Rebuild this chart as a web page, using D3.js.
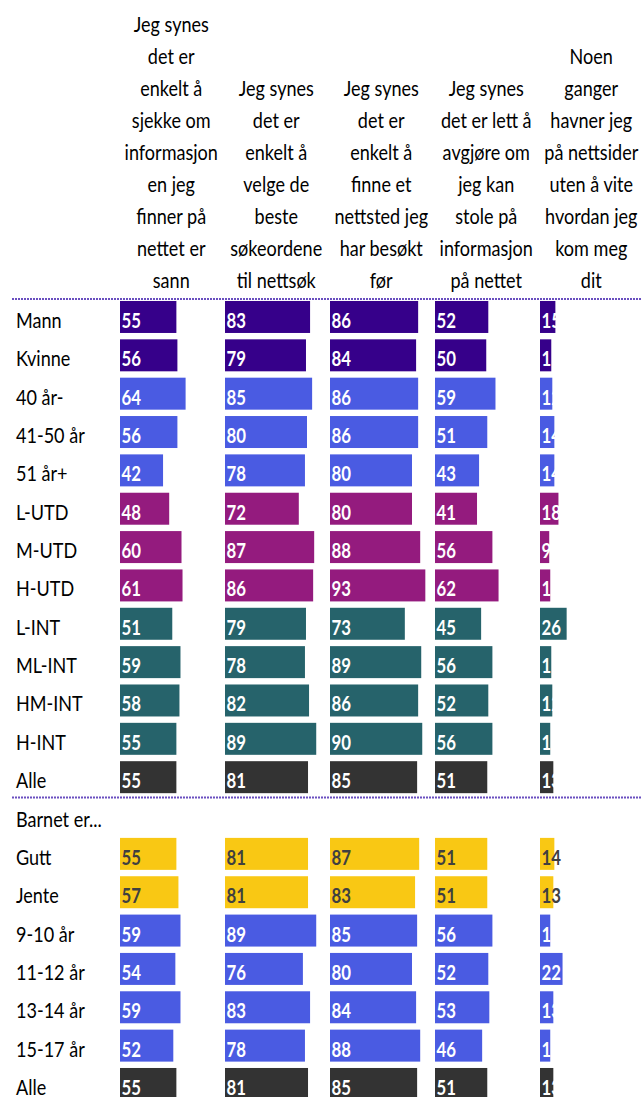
<!DOCTYPE html>
<html>
<head>
<meta charset="utf-8">
<style>
body { margin: 0; background: #fff; }
svg text { font-family: Lato, "Open Sans", sans-serif; }
</style>
<title>Nettsøk</title>
</head>
<body>
<div id="chart"></div>
<script src="https://d3js.org/d3.v7.min.js"></script>
<script>
// rows (groups) in the order they appear
var rows = ["Mann", "Kvinne", "40 år-", "41-50 år", "51 år+", "L-UTD", "M-UTD", "H-UTD",
            "L-INT", "ML-INT", "HM-INT", "H-INT", "Alle", "Barnet er...",
            "Gutt", "Jente", "9-10 år", "11-12 år", "13-14 år", "15-17 år", "Alle"];

// colour group for each row
var rowGroup = ["kjonn", "kjonn", "alder", "alder", "alder", "utd", "utd", "utd",
                "int", "int", "int", "int", "alle", "",
                "barn", "barn", "alder", "alder", "alder", "alder", "alle"];

// column headings, one array of lines per question
var questions = [
  ["Jeg synes", "det er", "enkelt å", "sjekke om", "informasjon", "en jeg", "finner på", "nettet er", "sann"],
  ["Jeg synes", "det er", "enkelt å", "velge de", "beste", "søkeordene", "til nettsøk"],
  ["Jeg synes", "det er", "enkelt å", "finne et", "nettsted jeg", "har besøkt", "før"],
  ["Jeg synes", "det er lett å", "avgjøre om", "jeg kan", "stole på", "informasjon", "på nettet"],
  ["Noen", "ganger", "havner jeg", "på nettsider", "uten å vite", "hvordan jeg", "kom meg", "dit"]
];

// percent values per question (null = heading row)
var q1 = [55, 56, 64, 56, 42, 48, 60, 61, 51, 59, 58, 55, 55, null, 55, 57, 59, 54, 59, 52, 55];
var q2 = [83, 79, 85, 80, 78, 72, 87, 86, 79, 78, 82, 89, 81, null, 81, 81, 89, 76, 83, 78, 81];
var q3 = [86, 84, 86, 86, 80, 80, 88, 93, 73, 89, 86, 90, 85, null, 87, 83, 85, 80, 84, 88, 85];
var q4 = [52, 50, 59, 51, 43, 41, 56, 62, 45, 56, 52, 56, 51, null, 51, 51, 56, 52, 53, 46, 51];
var q5 = [15, 11, 12, 14, 14, 18, 9, 10, 26, 11, 12, 10, 13, null, 14, 13, 10, 22, 13, 10, 13];
var series = [q1, q2, q3, q4, q5];

var width = 641, height = 1097;

var color = d3.scaleOrdinal()
    .domain(["kjonn", "alder", "utd", "int", "alle", "barn"])
    .range(["#36008a", "#4a5be2", "#941b7e", "#26636b", "#333333", "#f9c814"]);

var labelColor = function(g) { return g == "barn" ? "#404040" : "#ffffff"; };

var svg = d3.select("#chart").append("svg")
    .attr("width", width)
    .attr("height", height);

var y = d3.scaleBand()
    .domain(d3.range(rows.length))
    .range([297.8, 297.8 + rows.length * 38.35])
    .paddingInner(0.166)
    .paddingOuter(0.083);

var col = d3.scaleBand()
    .domain(d3.range(questions.length))
    .range([120, 120 + questions.length * 105]);

var x = d3.scaleLinear()
    .domain([0, 100])
    .range([0, 102.5]);

var sx = 0.86; // text is drawn narrow, like in the original

// headings, bottom aligned
questions.forEach(function(lines, qi) {
  var n = lines.length;
  svg.append("g").selectAll("text")
    .data(lines)
    .enter().append("text")
      .attr("transform", function(d, i) {
        return "translate(" + (col(qi) + x(50)) + "," + (288 - (n - 1 - i) * 32) + ") scale(" + sx + ",1)";
      })
      .attr("text-anchor", "middle")
      .attr("font-size", 21)
      .attr("fill", "#000")
      .text(function(d) { return d; });
});

// row labels
svg.append("g").selectAll("text")
  .data(rows)
  .enter().append("text")
    .attr("transform", function(d, i) {
      return "translate(16," + (y(i) + y.bandwidth() - 5) + ") scale(" + sx + ",1)";
    })
    .attr("font-size", 21)
    .attr("fill", "#000")
    .text(function(d) { return d; });

// dotted separators
[0, 13].forEach(function(i) {
  svg.append("line")
    .attr("x1", 12)
    .attr("x2", width)
    .attr("y1", y(i) - 2)
    .attr("y2", y(i) - 2)
    .attr("stroke", "#6a4fc0")
    .attr("stroke-width", 2)
    .attr("stroke-dasharray", "2,1");
});

// bars + value labels
series.forEach(function(vals, qi) {
  var g = svg.append("g").attr("transform", "translate(" + col(qi) + ",0)");
  var data = vals.map(function(v, i) { return {v: v, i: i, grp: rowGroup[i]}; })
    .filter(function(d) { return d.v != null; });

  g.selectAll("rect")
    .data(data)
    .enter().append("rect")
      .attr("x", 0)
      .attr("y", function(d) { return y(d.i); })
      .attr("width", function(d) { return x(d.v); })
      .attr("height", y.bandwidth())
      .attr("fill", function(d) { return color(d.grp); });

  g.selectAll("text")
    .data(data)
    .enter().append("text")
      .attr("transform", function(d) {
        return "translate(1.5," + (y(d.i) + y.bandwidth() - 5) + ") scale(0.8,1)";
      })
      .attr("font-size", 21)
      .attr("font-weight", "bold")
      .attr("fill", function(d) { return labelColor(d.grp); })
      .text(function(d) { return d.v; });
});
</script>
</body>
</html>
